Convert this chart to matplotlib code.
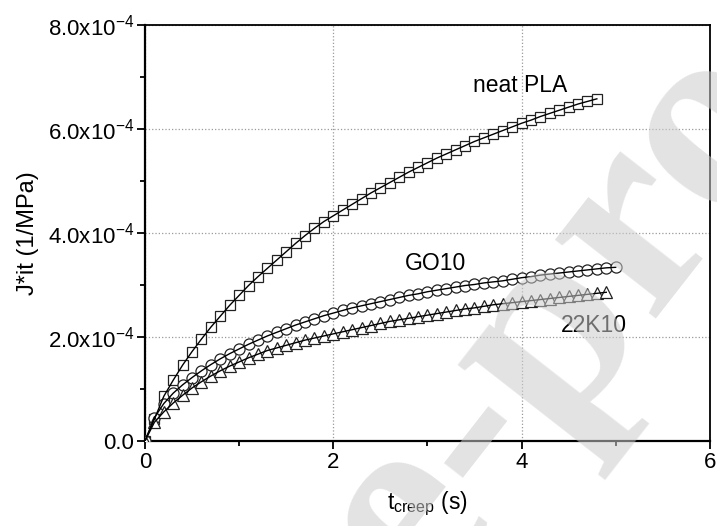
import matplotlib

matplotlib.use("Agg")
import matplotlib.pyplot as plt  # noqa: E402
from matplotlib.ticker import FuncFormatter, MultipleLocator  # noqa: E402

plt.rcParams["font.family"] = ["Liberation Sans", "DejaVu Sans"]
plt.rcParams["mathtext.default"] = "regular"

# creep compliance J*it in units of 1e-4 1/MPa, sampled every 0.1 s
T_PLA = [round(0.1 * i, 1) for i in range(49)]
J_PLA = [0.00, 0.42, 0.86, 1.17, 1.46, 1.72, 1.96, 2.19, 2.40, 2.61,
         2.80, 2.99, 3.16, 3.32, 3.48, 3.64, 3.80, 3.95, 4.09, 4.22,
         4.33, 4.44, 4.55, 4.66, 4.77, 4.87, 4.97, 5.07, 5.17, 5.26,
         5.35, 5.44, 5.52, 5.60, 5.68, 5.76, 5.83, 5.90, 5.97, 6.04,
         6.11, 6.17, 6.24, 6.30, 6.36, 6.42, 6.48, 6.53, 6.58]

T_GO = [round(0.1 * i, 1) for i in range(51)]
J_GO = [0.00, 0.45, 0.72, 0.92, 1.08, 1.22, 1.35, 1.47, 1.58, 1.68,
        1.77, 1.86, 1.94, 2.02, 2.09, 2.16, 2.23, 2.29, 2.35, 2.41,
        2.46, 2.51, 2.56, 2.60, 2.64, 2.68, 2.72, 2.76, 2.80, 2.83,
        2.87, 2.90, 2.93, 2.96, 2.99, 3.01, 3.04, 3.06, 3.08, 3.11,
        3.14, 3.16, 3.19, 3.21, 3.23, 3.25, 3.27, 3.29, 3.31, 3.33,
        3.34]

T_22K = [round(0.1 * i, 1) for i in range(50)]
J_22K = [0.00, 0.36, 0.56, 0.73, 0.88, 1.02, 1.14, 1.25, 1.35, 1.44,
         1.52, 1.60, 1.67, 1.74, 1.79, 1.84, 1.89, 1.94, 1.98, 2.02,
         2.06, 2.10, 2.14, 2.18, 2.22, 2.26, 2.30, 2.33, 2.36, 2.39,
         2.42, 2.45, 2.48, 2.51, 2.54, 2.56, 2.59, 2.62, 2.64, 2.66,
         2.68, 2.70, 2.72, 2.74, 2.76, 2.78, 2.80, 2.82, 2.84, 2.86]

SCALE = 1e-4


def ytick(v, _pos):
    if abs(v) < 1e-12:
        return "0.0"
    return f"{v / SCALE:.1f}x10$^{{-4}}$"


fig = plt.figure(figsize=(7.17, 5.26), dpi=100)
ax = fig.add_axes([0.2022, 0.1616, 0.7878, 0.7909])

series = [
    (T_PLA, J_PLA, "s", 7.6),
    (T_GO, J_GO, "o", 8.0),
    (T_22K, J_22K, "^", 8.6),
]
for t, j, mk, ms in series:
    y = [v * SCALE for v in j]
    ax.plot(t, y, ls="none", marker=mk, ms=ms, mfc="white", mec="#222222", mew=0.9, zorder=3)
    ax.plot(t, y, color="black", lw=1.0, zorder=4)

ax.set_xlim(0, 6)
ax.set_ylim(0, 8e-4)
ax.xaxis.set_major_locator(MultipleLocator(2))
ax.xaxis.set_minor_locator(MultipleLocator(1))
ax.yaxis.set_major_locator(MultipleLocator(2e-4))
ax.yaxis.set_minor_locator(MultipleLocator(1e-4))
ax.yaxis.set_major_formatter(FuncFormatter(ytick))
ax.tick_params(which="major", direction="out", length=6, width=1.3, labelsize=16, pad=2)
ax.tick_params(which="minor", direction="out", length=3.5, width=1.3)
ax.grid(True, which="major", color="#9a9a9a", ls=":", lw=0.9)
for side in ["left", "bottom"]:
    ax.spines[side].set_linewidth(1.6)
for side in ["top", "right"]:
    ax.spines[side].set_linewidth(1.3)

ax.set_xlabel("t$_{creep}$ (s)", fontsize=16.5, labelpad=12)
ax.set_ylabel("J*it (1/MPa)", fontsize=17, labelpad=6)

ax.text(3.99, 6.83e-4, "neat PLA", fontsize=16.5, ha="center", va="center")
ax.text(3.09, 3.42e-4, "GO10", fontsize=16.5, ha="center", va="center")
ax.text(4.77, 2.23e-4, "22K10", fontsize=16.5, ha="center", va="center")

# journal watermark
fig.text(0.409, -0.489, "Journal Pre-proof", fontsize=200, family=["Liberation Serif"],
         fontweight="bold", color="#cccccc", alpha=0.55, rotation=52,
         rotation_mode="anchor", ha="center", va="baseline", zorder=10)

fig.savefig("out.png", dpi=100)
